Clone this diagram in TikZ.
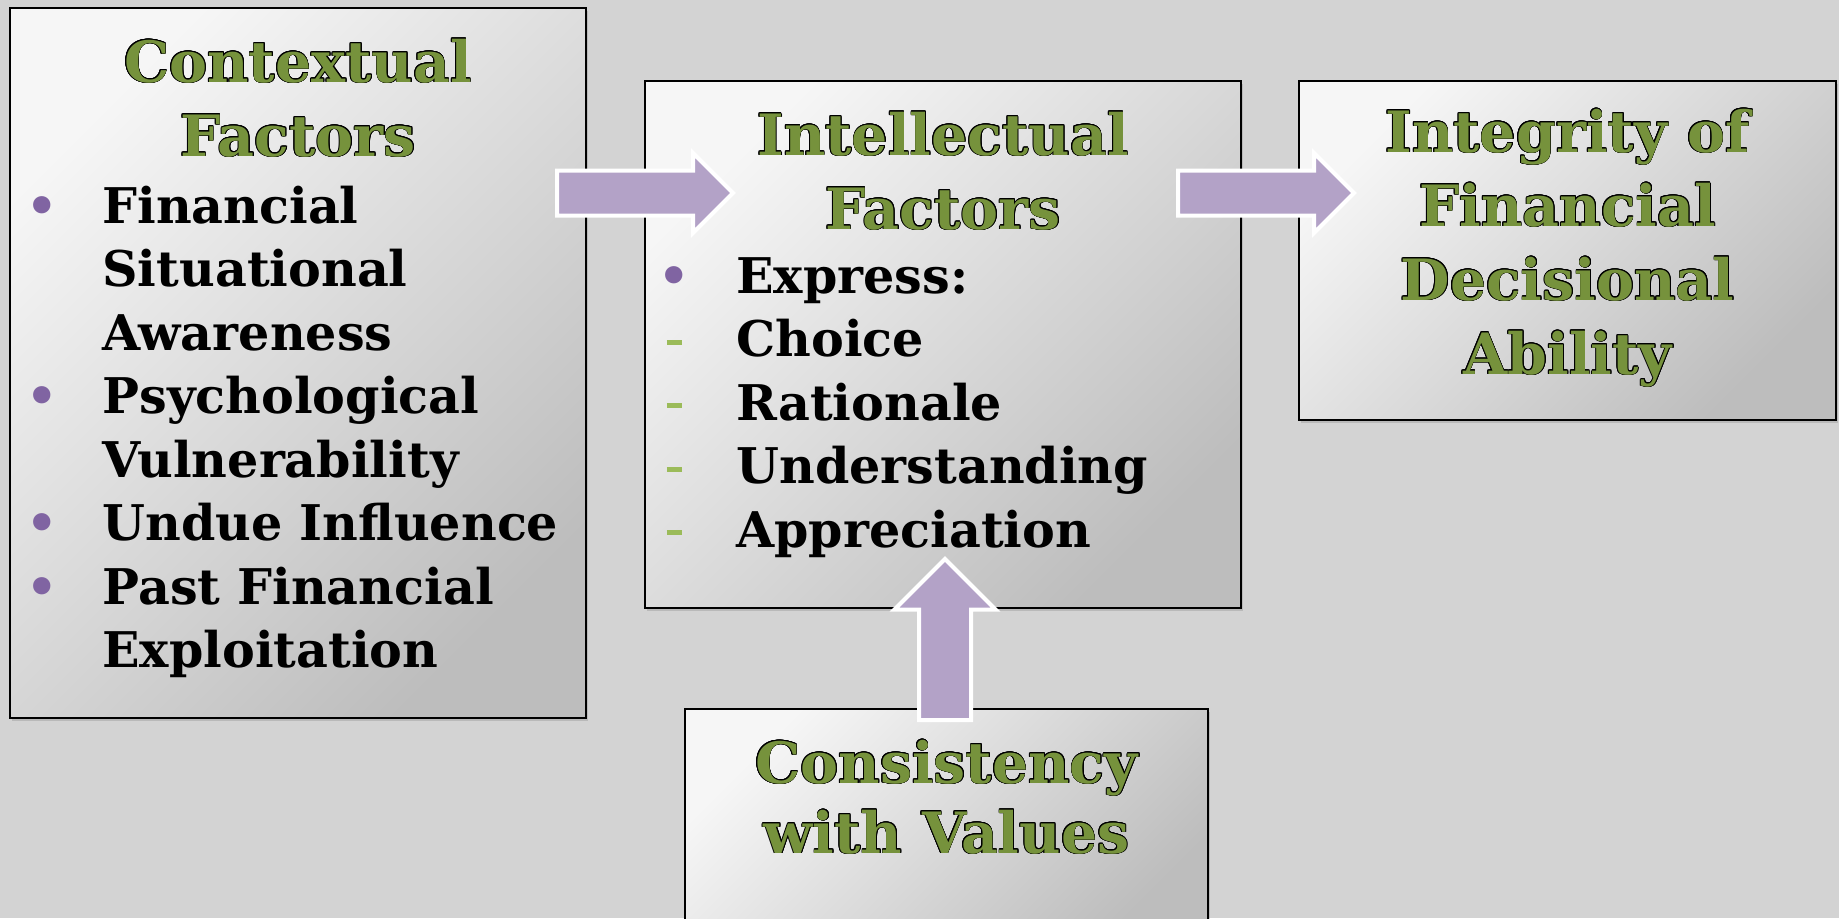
\documentclass[tikz,border=0pt]{standalone}
\usepackage{fontspec}
\setmainfont{DejaVu Serif}
\usepackage{xcolor}
\usepackage{contour}
\contourlength{0.35pt}
\usepackage{tikz}
\usetikzlibrary{shapes,shapes.arrows,shadows,positioning,calc}

\definecolor{slidegray}{HTML}{D3D3D3}
\definecolor{boxlight}{HTML}{F6F6F6}
\definecolor{boxdark}{HTML}{BDBDBD}
\definecolor{titlegreen}{HTML}{76923C}
\definecolor{arrowpurple}{HTML}{B3A2C7}
\definecolor{bulletpurple}{HTML}{8064A2}
\definecolor{dashgreen}{HTML}{9BBB59}

\newcommand{\ttl}[1]{\contour{black}{#1}}
\newcommand{\bul}{\makebox[24pt]{\textcolor{bulletpurple}{•}}}
\newcommand{\dsh}{\makebox[24pt]{\textcolor{dashgreen}{\rule[6pt]{7.5pt}{2.5pt}}}}

\begin{document}
\begin{tikzpicture}[x=0.5pt, y=0.5pt,
    title/.style={text=titlegreen, anchor=base, inner sep=0pt, font=\fontsize{28.5}{37}\selectfont\bfseries},
    items/.style={anchor=base west, inner sep=0pt, font=\fontsize{24.6}{31.75}\selectfont\bfseries}]
    \fill[slidegray] (0,0) rectangle (1839,-918);
    \useasboundingbox (0,0) rectangle (1839,-918);

    %Boxes
    \begin{scope}[every node/.style={rectangle, draw=black, line width=1pt, anchor=north west, inner sep=0pt,
        top color=boxlight, bottom color=boxdark, shading angle=45,
        drop shadow={opacity=0.3, shadow xshift=1pt, shadow yshift=-1.5pt}}]
    \node (contextual)   [minimum width=288pt,   minimum height=355pt]   at (9,-7)     {};
    \node (intellectual) [minimum width=298pt,   minimum height=263.5pt] at (644,-80)  {};
    \node (ability)      [minimum width=268.5pt, minimum height=169.5pt] at (1298,-80) {};
    \node (values)       [minimum width=261.5pt, minimum height=120pt]   at (684,-708) {};
    \end{scope}

    % Titles
    \node (contextual_title)   [title] at ($(contextual.north)+(0,-75)$)
        {\begin{tabular}[t]{@{}c@{}}\ttl{Contextual}\\\ttl{Factors}\end{tabular}};
    \node (intellectual_title) [title] at ($(intellectual.north)+(0,-75)$)
        {\begin{tabular}[t]{@{}c@{}}\ttl{Intellectual}\\\ttl{Factors}\end{tabular}};
    \node (ability_title)      [title] at ($(ability.north)+(0,-72)$)
        {\begin{tabular}[t]{@{}c@{}}\ttl{Integrity of}\\\ttl{Financial}\\\ttl{Decisional}\\\ttl{Ability}\end{tabular}};
    \node (values_title)       [title, font=\fontsize{28.5}{35}\selectfont\bfseries] at ($(values.north)+(0,-75)$)
        {\begin{tabular}[t]{@{}c@{}}\ttl{Consistency}\\\ttl{with Values}\end{tabular}};

    % Bullet lists
    \node (contextual_items)   [items] at ($(contextual.north west)+(9,-216)$)
        {\begin{tabular}[t]{@{}l@{\hspace{18pt}}l@{}}
        \bul & Financial\\
             & Situational\\
             & Awareness\\
        \bul & Psychological\\
             & Vulnerability\\
        \bul & Undue Influence\\
        \bul & Past Financial\\
             & Exploitation
        \end{tabular}};
    \node (intellectual_items) [items] at ($(intellectual.north west)+(6,-213)$)
        {\begin{tabular}[t]{@{}l@{\hspace{19pt}}l@{}}
        \bul & Express:\\
        \dsh & Choice\\
        \dsh & Rationale\\
        \dsh & Understanding\\
        \dsh & Appreciation
        \end{tabular}};

    %Arrows
    \begin{scope}[every node/.style={single arrow, draw=white, line width=2pt, fill=arrowpurple,
        inner xsep=0pt, single arrow head indent=0pt, anchor=tail}]
    \node (contextual_to_intellectual) [minimum height=88pt, inner ysep=10.25pt, single arrow head extend=8.75pt] at (555,-193) {};
    \node (intellectual_to_ability)    [minimum height=88pt, inner ysep=10.25pt, single arrow head extend=8.75pt] at (1176,-193) {};
    \node (values_to_intellectual)     [minimum height=80.5pt, inner ysep=12pt, single arrow head extend=12.25pt, rotate=90] at (945,-722) {};
    \end{scope}
\end{tikzpicture}
\end{document}
